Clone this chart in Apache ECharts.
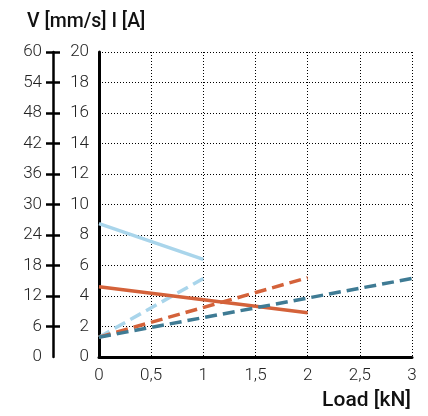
<!DOCTYPE html>
<html>
<head>
<meta charset="utf-8">
<script src="https://cdn.jsdelivr.net/npm/echarts@6/dist/echarts.min.js"></script>
<style>
html,body{margin:0;padding:0;background:#fff;}
#chart{width:428px;height:416px;}
</style>
</head>
<body>
<div id="chart"></div>
<script>
// Load [kN] x-values and current I [A] values (plotted on 0-20 axis)
var lightBlueSolidX = [0, 1];
var lightBlueSolidY = [8.75, 6.4];
var lightBlueDashX = [0, 1];
var lightBlueDashY = [1.3, 5.15];
var orangeSolidX = [0, 2];
var orangeSolidY = [4.6, 2.9];
var orangeDashX = [0, 2];
var orangeDashY = [1.3, 5.2];
var tealDashX = [0, 3];
var tealDashY = [1.3, 5.15];

var vTicks = [6, 12, 18, 24, 30, 36, 42, 48, 54, 60];

var titleText = 'V [mm/s] I [A]';
var xName = 'Load [kN]';

function pairs(xs, ys){ return xs.map(function(x,i){ return [x, ys[i]]; }); }

var FONT = 'Roboto';
var labelStyle = {fontFamily: FONT, fontSize: 17, fontWeight: 300, color: '#222'};

var chart = echarts.init(document.getElementById('chart'), null, {renderer:'canvas'});
chart.setOption({
  animation: false,
  title: [
    {text: titleText, left: 27, top: 12, padding: 0, textStyle: {fontFamily: FONT, fontSize: 19.5, fontWeight: 500, color: '#111'}},
    {text: xName, right: 17, top: 390, padding: 0, textStyle: {fontFamily: FONT, fontSize: 21, fontWeight: 500, color: '#111'}}
  ],
  grid: {left: 99, right: 16, top: 52, bottom: 59},
  xAxis: {
    type: 'value', min: 0, max: 3, interval: 0.5,
    axisLine: {onZero: false, lineStyle: {color: '#000', width: 3}},
    axisTick: {show: false},
    axisLabel: Object.assign({margin: 10, formatter: function(v){ return String(v).replace('.', ','); }}, labelStyle),
    splitLine: {show: true, lineStyle: {color: '#000', width: 1, type: [1, 2]}}
  },
  yAxis: [
    {
      type: 'value', min: 0, max: 20, interval: 2, position: 'left',
      axisLine: {show: true, onZero: false, lineStyle: {color: '#000', width: 3}},
      axisTick: {show: false},
      axisLabel: Object.assign({margin: 10, padding: [5, 0, 0, 0]}, labelStyle),
      splitLine: {show: true, lineStyle: {color: '#000', width: 1, type: [1, 2]}}
    },
    {
      type: 'value', min: 0, max: 60, interval: 6, position: 'left', offset: 46,
      axisLine: {show: true, onZero: false, lineStyle: {color: '#000', width: 2.5}},
      axisTick: {show: false},
      axisLabel: Object.assign({margin: 11, padding: [5, 0, 0, 0]}, labelStyle),
      splitLine: {show: false}
    },
    {
      type: 'value', min: 0, max: 60, interval: 6, position: 'left', offset: 39,
      axisLine: {show: false, onZero: false},
      axisTick: {show: true, inside: false, length: 14, customValues: vTicks, lineStyle: {color: '#000', width: 2.5}},
      axisLabel: {show: false},
      splitLine: {show: false}
    }
  ],
  series: [
    {type: 'line', yAxisIndex: 0, data: pairs(lightBlueSolidX, lightBlueSolidY), symbol: 'none', lineStyle: {color: '#a9d5eb', width: 3.5}},
    {type: 'line', yAxisIndex: 0, data: pairs(lightBlueDashX, lightBlueDashY), symbol: 'none', lineStyle: {color: '#a9d5eb', width: 3.5, type: [12, 6]}},
    {type: 'line', yAxisIndex: 0, data: pairs(orangeSolidX, orangeSolidY), symbol: 'none', lineStyle: {color: '#d4623a', width: 3.5}},
    {type: 'line', yAxisIndex: 0, data: pairs(orangeDashX, orangeDashY), symbol: 'none', lineStyle: {color: '#d4623a', width: 3.5, type: [12, 6]}},
    {type: 'line', yAxisIndex: 0, data: pairs(tealDashX, tealDashY), symbol: 'none', lineStyle: {color: '#3f7b94', width: 3.5, type: [12, 6]}}
  ]
});
</script>
</body>
</html>
